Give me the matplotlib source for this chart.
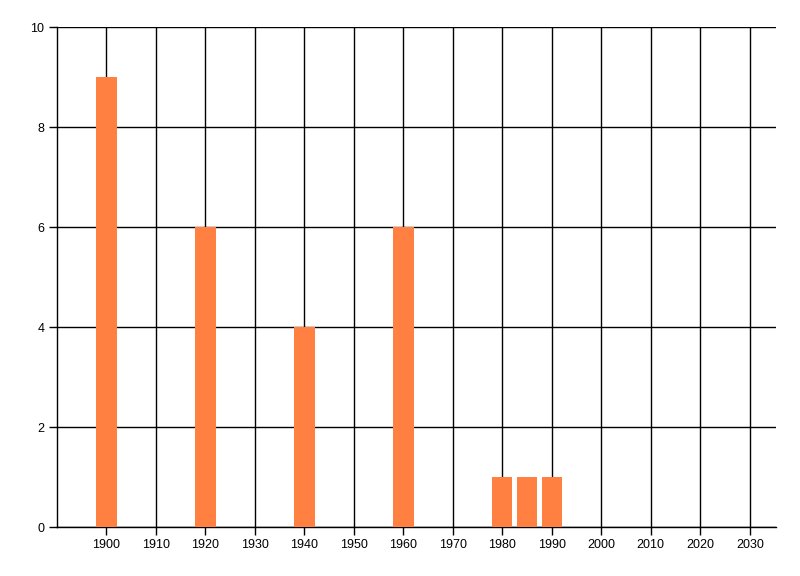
import matplotlib
matplotlib.use("Agg")
import matplotlib.pyplot as plt

years = [1900, 1920, 1940, 1960, 1980, 1985, 1990]
counts = [9, 6, 4, 6, 1, 1, 1]
x_ticks = list(range(1900, 2031, 10))
y_ticks = [0, 2, 4, 6, 8, 10]

plt.rcParams['font.family'] = ['Liberation Sans', 'DejaVu Sans']
fig = plt.figure(figsize=(8, 5.76), dpi=100)
ax = fig.add_axes([57/800, 1-527/576, (776-57)/800, (527-27)/576])

ax.set_xlim(1890, 2035.3)
ax.set_ylim(0, 10)
ax.set_xticks(x_ticks)
ax.set_yticks(y_ticks)
ax.grid(True, color='black', linewidth=1.0)
ax.set_axisbelow(True)
ax.bar(years, counts, width=4.1, color='#FF8040', zorder=3)

for s in ['top', 'right']:
    ax.spines[s].set_visible(False)
for s in ['left', 'bottom']:
    ax.spines[s].set_linewidth(1.0)
    ax.spines[s].set_color('black')
ax.tick_params(axis='both', length=6, width=1.0, labelsize=9, colors='black', pad=3)

fig.savefig('out.png', dpi=100)
